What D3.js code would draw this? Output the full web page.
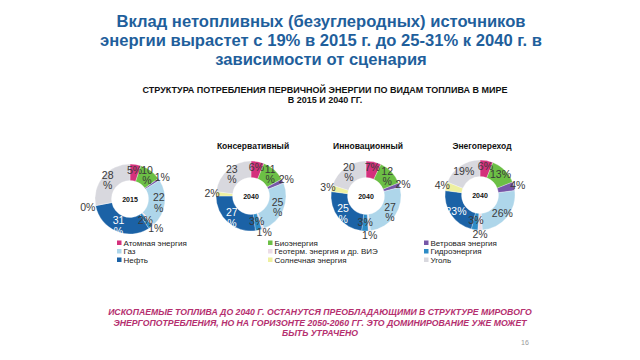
<!DOCTYPE html>
<html>
<head>
<meta charset="utf-8">
<script src="https://cdn.jsdelivr.net/npm/d3@7"></script>
<style>
  html, body { margin: 0; padding: 0; background: #ffffff; }
  svg { display: block; font-family: "Liberation Sans", Arial, sans-serif; }
</style>
</head>
<body>
<div id="chart"></div>
<script>
const categories = ["Атомная энергия","Биоэнергия","Ветровая энергия","Газ","Геотерм. энергия и др. ВИЭ","Гидроэнергия","Нефть","Солнечная энергия","Уголь"];
const scenarios = ["", "Консервативный", "Инновационный", "Энегопереход"];
const years = ["2015", "2040", "2040", "2040"];
const values2015 = [5, 10, 1, 22, 1, 2, 31, 0, 28];
const valuesConservative = [6, 11, 2, 25, 1, 3, 27, 2, 23];
const valuesInnovation = [7, 12, 2, 27, 1, 3, 25, 3, 20];
const valuesTransition = [6, 13, 4, 26, 2, 3, 23, 4, 19];
const titleLines = ["Вклад нетопливных (безуглеродных) источников", "энергии вырастет с 19% в 2015 г. до 25-31% к 2040 г. в", "зависимости от сценария"];
const subtitleLines = ["СТРУКТУРА ПОТРЕБЛЕНИЯ ПЕРВИЧНОЙ ЭНЕРГИИ ПО ВИДАМ ТОПЛИВА В МИРЕ", "В 2015 И 2040 ГГ."];
const noteLines = ["ИСКОПАЕМЫЕ ТОПЛИВА ДО 2040 Г. ОСТАНУТСЯ ПРЕОБЛАДАЮЩИМИ В СТРУКТУРЕ МИРОВОГО", "ЭНЕРГОПОТРЕБЛЕНИЯ, НО НА ГОРИЗОНТЕ 2050-2060 ГГ. ЭТО ДОМИНИРОВАНИЕ УЖЕ МОЖЕТ", "БЫТЬ УТРАЧЕНО"];

const colors = ["#d4317c","#6cbf45","#7657a8","#aed6ea","#ecdde6","#2d8bc6","#1b62a6","#eef0a0","#d8d8de"];
const outside = [false,false,true,false,true,false,false,true,false];

const width = 640, height = 360;
const svg = d3.select("#chart").append("svg")
    .attr("width", width)
    .attr("height", height);

// title
svg.append("g").selectAll("text")
    .data(titleLines).enter().append("text")
    .attr("x", 321)
    .attr("y", (d,i) => 27 + i*19)
    .attr("text-anchor","middle")
    .attr("font-size","16.6px")
    .attr("font-weight","bold")
    .attr("fill","#1f5f9c")
    .text(d => d);

svg.append("g").selectAll("text")
    .data(subtitleLines).enter().append("text")
    .attr("x", 325)
    .attr("y", (d,i) => 92.5 + i*10.5)
    .attr("text-anchor","middle")
    .attr("font-size","9px")
    .attr("font-weight","bold")
    .attr("fill","#111")
    .text(d => d);

// donuts
const charts = [
    {values: values2015, cx: 130, cy: 199, wrap: true},
    {values: valuesConservative, cx: 251, cy: 196, wrap: true},
    {values: valuesInnovation, cx: 366, cy: 196, wrap: true},
    {values: valuesTransition, cx: 480, cy: 195, wrap: false}
];
const outerR = 35, innerR = 18.5;
const pie = d3.pie().sort(null).value(d => d.value);
const arc = d3.arc().innerRadius(innerR).outerRadius(outerR);
const ringLabel = d3.arc().innerRadius(outerR - 6).outerRadius(outerR - 6);
const smallRingLabel = d3.arc().innerRadius(outerR - 9).outerRadius(outerR - 9);
const outLabel = d3.arc().innerRadius(outerR + 4).outerRadius(outerR + 4);

charts.forEach((c, ci) =>
{
    const g = svg.append("g").attr("transform", `translate(${c.cx},${c.cy})`);
    const data = pie(categories.map((name,i) => ({name:name, value:c.values[i], idx:i})));

    g.selectAll("path")
        .data(data).enter().append("path")
        .attr("d", arc)
        .attr("fill", d => colors[d.data.idx])
        .attr("stroke","#fff")
        .attr("stroke-width",0.3);

    g.append("text")
        .attr("y", 2.5)
        .attr("text-anchor","middle")
        .attr("font-size","7px")
        .attr("font-weight","bold")
        .attr("fill","#111")
        .text(years[ci]);

    if (scenarios[ci])
    {
        svg.append("text")
            .attr("x", c.cx + 2)
            .attr("y", 149)
            .attr("text-anchor","middle")
            .attr("font-size","8.5px")
            .attr("font-weight","bold")
            .attr("fill","#111")
            .text(scenarios[ci]);
    }

    const labels = g.selectAll(".lbl")
        .data(data).enter().append("text")
        .attr("class","lbl")
        .attr("transform", d =>
        {
            let p;
            if (d.endAngle - d.startAngle < 0.001)
            {
                const a = d.startAngle - Math.PI/2;
                p = [Math.cos(a)*(outerR+8), Math.sin(a)*(outerR+8)];
            }
            else if (outside[d.data.idx])
            {
                p = outLabel.centroid(d);
            }
            else
            {
                p = d.data.value < 5 ? smallRingLabel.centroid(d) : ringLabel.centroid(d);
            }
            return `translate(${p[0]},${p[1]})`;
        })
        .attr("text-anchor","middle")
        .attr("font-size","10.5px")
        .attr("fill", d => d.data.idx === 6 ? "#fff" : "#3a3a3a");

    labels.each(function(d)
    {
        const t = d3.select(this);
        if (c.wrap && d.data.value >= 10)
        {
            t.append("tspan").attr("x",0).attr("dy","-0.15em").text(d.data.value);
            t.append("tspan").attr("x",0).attr("dy","1em").text("%");
        }
        else
        {
            t.append("tspan").attr("x",0).attr("dy","0.35em").text(d.data.value + "%");
        }
    });
});

// legend
const legendX = [117, 268, 424];
const legendY = [243, 251.5, 260];
const legend = svg.append("g").selectAll("g")
    .data(categories).enter().append("g")
    .attr("transform", (d,i) => `translate(${legendX[i%3]},${legendY[Math.floor(i/3)]})`);
legend.append("rect")
    .attr("x",0).attr("y",-2.5)
    .attr("width",4.5).attr("height",4.5)
    .attr("fill",(d,i) => colors[i]);
legend.append("text")
    .attr("x",6.5).attr("y",2.8)
    .attr("font-size","8px")
    .attr("fill","#222")
    .text(d => d);

// bottom note
svg.append("g").selectAll("text")
    .data(noteLines).enter().append("text")
    .attr("x", 320)
    .attr("y", (d,i) => 315 + i*10.6)
    .attr("text-anchor","middle")
    .attr("font-size","8.7px")
    .attr("font-weight","bold")
    .attr("font-style","italic")
    .attr("fill","#b5306f")
    .text(d => d);

svg.append("text")
    .attr("x", 525).attr("y", 345)
    .attr("text-anchor","middle")
    .attr("font-size","7px")
    .attr("fill","#999")
    .text("16");
</script>
</body>
</html>
